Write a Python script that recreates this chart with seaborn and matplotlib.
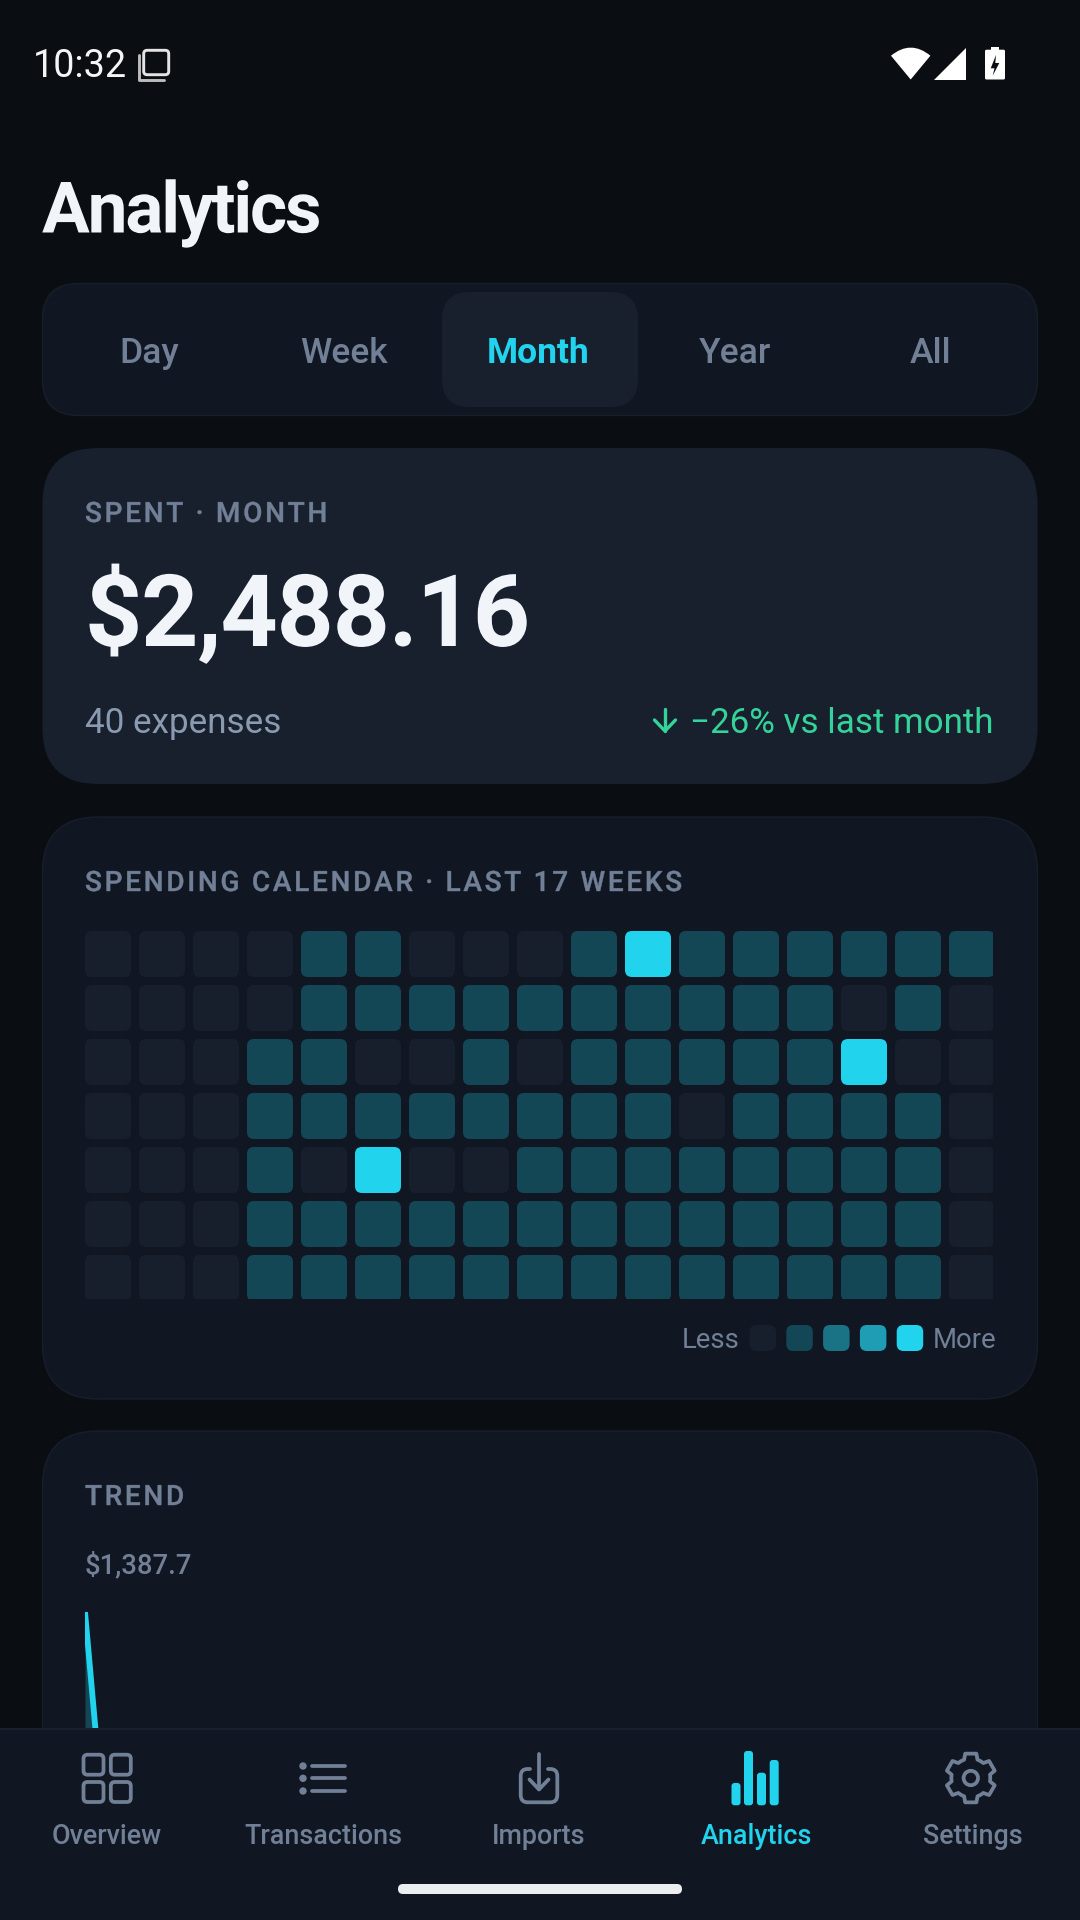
import numpy as np
import pandas as pd
import matplotlib
matplotlib.use("Agg")
import matplotlib.pyplot as plt
import seaborn as sns
from matplotlib.colors import ListedColormap
from matplotlib.font_manager import FontProperties
from matplotlib.patches import FancyBboxPatch, Polygon, Circle, PathPatch
from matplotlib.path import Path
from matplotlib.patheffects import AbstractPathEffect
from matplotlib.textpath import text_to_path
from matplotlib.transforms import Bbox, TransformedBbox

# ---- data ----
tab_labels = ["Day", "Week", "Month", "Year", "All"]
nav_labels = ["Overview", "Transactions", "Imports", "Analytics", "Settings"]
level_colors = ["#181f2c", "#144755", "#1a7285", "#1e9db5", "#22d3ee"]
calendar_levels = [
    [0, 0, 0, 0, 1, 1, 0, 0, 0, 1, 4, 1, 1, 1, 1, 1, 1],
    [0, 0, 0, 0, 1, 1, 1, 1, 1, 1, 1, 1, 1, 1, 0, 1, 0],
    [0, 0, 0, 1, 1, 0, 0, 1, 0, 1, 1, 1, 1, 1, 4, 0, 0],
    [0, 0, 0, 1, 1, 1, 1, 1, 1, 1, 1, 0, 1, 1, 1, 1, 0],
    [0, 0, 0, 1, 0, 4, 0, 0, 1, 1, 1, 1, 1, 1, 1, 1, 0],
    [0, 0, 0, 1, 1, 1, 1, 1, 1, 1, 1, 1, 1, 1, 1, 1, 0],
    [0, 0, 0, 1, 1, 1, 1, 1, 1, 1, 1, 1, 1, 1, 1, 1, 0],
]
trend_steps = [0, 1]
trend_values = [1387.7, 699.0]

# ---- palette ----
BG = "#0a0d12"
CARD = "#101722"
CARD2 = "#18202e"
NAV = "#101722"
BORDER = "#171f2b"
MUTED = "#718096"
SOFT = "#8a9ab0"
WHITE = "#f1f5f9"
CYAN = "#22d3ee"
GREEN = "#34d399"

sns.set_theme(style="dark", rc={"axes.facecolor": BG, "figure.facecolor": BG})
plt.rcParams["font.family"] = ["Roboto", "DejaVu Sans"]

W, H = 1080, 1920
fig = plt.figure(figsize=(W / 100, H / 100), dpi=100, facecolor=BG)


def pixel_axes(zorder, y0=0, y1=H):
    ax = fig.add_axes([0, 1 - y1 / H, 1, (y1 - y0) / H], zorder=zorder)
    ax.set_xlim(0, W)
    ax.set_ylim(y1, y0)
    ax.axis("off")
    return ax


def box_axes(x0, y0, x1, y1, zorder):
    return fig.add_axes([x0 / W, 1 - y1 / H, (x1 - x0) / W, (y1 - y0) / H], zorder=zorder)


class Tracking(AbstractPathEffect):
    """Draws a whole string with extra letter spacing and an optional hairline stroke."""

    def __init__(self, s, prop, em, stroke=0.0):
        super().__init__()
        self.counts = [len(text_to_path.get_text_path(prop, c)[0]) for c in s]
        self.em = em
        self.stroke = stroke

    def draw_path(self, renderer, gc, tpath, affine, rgbFace=None):
        v = np.array(tpath.vertices, dtype=float)
        if sum(self.counts) == len(v):
            i = 0
            for k, n in enumerate(self.counts):
                v[i:i + n, 0] += k * self.em * 100
                i += n
        if self.stroke:
            gc.set_linewidth(self.stroke)
        renderer.draw_path(gc, Path(v, tpath.codes), affine, rgbFace)


def label(ax, x, y, s, px, color, weight="normal", ha="left", em=None, stroke=0.0):
    t = ax.text(x, y, s, fontsize=px * 0.72, color=color, fontweight=weight,
                ha=ha, va="baseline", family=["Roboto", "DejaVu Sans"])
    if em:
        prop = FontProperties(family="Roboto", weight=weight)
        t.set_path_effects([Tracking(s, prop, em, stroke)])
    return t


def rbox(ax, x0, y0, x1, y1, r, fc, ec="none", lw=0, z=1, **kw):
    p = FancyBboxPatch((x0, y0), x1 - x0, y1 - y0, boxstyle=f"round,pad=0,rounding_size={r}",
                       fc=fc, ec=ec, lw=lw, zorder=z, **kw)
    ax.add_patch(p)
    return p


bg = pixel_axes(0)

# status bar
label(bg, 32.5, 77, "10:32", 37.8, "#f5f5f5")
rbox(bg, 143.7, 50.3, 168.7, 74.7, 3.5, "none", "#e4e4e4", 2.1)
bg.plot([139, 139, 163.5], [54.5, 79.5, 79.5], color="#bdbdbd", lw=2.1, solid_capstyle="round", solid_joinstyle="round")
wifi = Path([(910.7, 79.5), (891, 55.7), (910.7, 39.5), (930.4, 55.7), (910.7, 79.5)],
            [Path.MOVETO, Path.LINETO, Path.CURVE3, Path.CURVE3, Path.CLOSEPOLY])
bg.add_patch(PathPatch(wifi, fc="white", ec="none"))
bg.add_patch(Polygon([(966, 47.5), (966, 79.5), (934, 79.5)], fc="white", ec="none"))
rbox(bg, 985, 49.7, 1005, 79.5, 1.5, "white")
bg.add_patch(Polygon([(990.7, 50), (990.7, 46.7), (999.3, 46.7), (999.3, 50)], fc="white", ec="none"))
bg.add_patch(Polygon([(996, 55), (990.7, 68.3), (994.5, 68.3), (992.7, 75.7), (999.3, 63), (995.3, 63)], fc=BG, ec="none", zorder=3))

# title
label(bg, 42, 232.5, "Analytics", 71, WHITE, "bold", em=-0.03)

# range tabs
rbox(bg, 42.5, 283.5, 1037.5, 415.5, 36, CARD, BORDER, 1)
rbox(bg, 442, 292, 638, 407, 28, CARD2, z=2)
tab_x = [148.7, 344, 538.6, 735, 930]
for x, s in zip(tab_x, tab_labels):
    active = s == "Month"
    label(bg, x, 363, s, 35.5, CYAN if active else MUTED, "bold" if active else "medium", ha="center").set_zorder(3)

# spent card
rbox(bg, 42.5, 448, 1037.5, 784, 56, CARD2)
label(bg, 85, 522, "SPENT · MONTH", 28, MUTED, "medium", em=0.096, stroke=0.3).set_zorder(3)
label(bg, 85, 646, "$2,488.16", 100, WHITE, "bold", em=-0.0125).set_zorder(3)
label(bg, 85, 733, "40 expenses", 35, SOFT).set_zorder(3)
label(bg, 993, 733, "−26% vs last month", 35, GREEN, ha="right").set_zorder(3)
bg.plot([665, 665], [708.5, 731], color=GREEN, lw=2.4, solid_capstyle="round", zorder=3)
bg.plot([654.5, 665, 675.5], [720, 731, 720], color=GREEN, lw=2.4, solid_capstyle="round", solid_joinstyle="round", zorder=3)

# calendar card
rbox(bg, 42.5, 817, 1037.5, 1399, 56, CARD, BORDER, 1)
label(bg, 85, 891, "SPENDING CALENDAR · LAST 17 WEEKS", 28, MUTED, "medium", em=0.096, stroke=0.3).set_zorder(3)

# calendar heatmap (cells rounded and cut off by the clip path / box of the mesh)
levels_df = pd.DataFrame(calendar_levels)
n_rows, n_cols = levels_df.shape
PITCH, CELL = 54, 46
hx0, hy0 = 85 - (PITCH - CELL) / 2, 931 - (PITCH - CELL) / 2
hm = box_axes(hx0, hy0, hx0 + n_cols * PITCH, hy0 + n_rows * PITCH, 1)
sns.heatmap(levels_df, ax=hm, cmap=ListedColormap(level_colors), vmin=-0.5, vmax=4.5,
            cbar=False, xticklabels=False, yticklabels=False)
hm.patch.set_alpha(0)
inset, size, rad = (PITCH - CELL) / 2 / PITCH, CELL / PITCH, 7 / PITCH
style = matplotlib.patches.BoxStyle.Round(pad=0, rounding_size=rad)
cells = [style(c + inset, r + inset, size, size, 1.0) for r in range(n_rows) for c in range(n_cols)]
mesh = hm.collections[0]
mesh.set_clip_path(Path.make_compound_path(*cells), hm.transData)
mesh.set_clip_box(TransformedBbox(Bbox([[85, 1299], [993, 931]]), bg.transData))

# legend
label(bg, 682, 1348.5, "Less", 27.5, MUTED)
for i, c in enumerate(level_colors):
    x = 749.5 + i * 36.8
    rbox(bg, x, 1325, x + 26.5, 1351, 7, c, z=3)
label(bg, 933, 1348.5, "More", 27.5, MUTED)

# trend card
rbox(bg, 42.5, 1431, 1037.5, 1990, 56, CARD, BORDER, 1)
label(bg, 85, 1505, "TREND", 28, MUTED, "medium", em=0.096, stroke=0.3).set_zorder(3)
label(bg, 85, 1573, "$1,387.7", 27.5, MUTED, "medium").set_zorder(3)

tr = box_axes(85, 1612, 993, 1890, 1)
tr.patch.set_alpha(0)
sns.lineplot(x=trend_steps, y=trend_values, ax=tr, color=CYAN, lw=4.2, estimator=None,
             solid_capstyle="butt")
tr.fill_between(trend_steps, trend_values, 0, color=CYAN, alpha=0.25, lw=0)
tr.set_xlim(0, 908 / 12.3)
tr.set_ylim(0, trend_values[0])
tr.axis("off")

# bottom navigation
nav = pixel_axes(5, 1728, H)
nav.add_patch(plt.Rectangle((0, 1728), W, 192, fc=NAV, ec="none"))
nav.plot([0, W], [1728.5, 1728.5], color="#1c2431", lw=1.2)
nav_x = [107, 323, 539, 756, 973]
for x, s in zip(nav_x, nav_labels):
    label(nav, x, 1844, s, 26.9, CYAN if s == "Analytics" else MUTED, "medium", ha="center")

SW = 2.7  # stroke, points
for x0, y0 in [(83.5, 1754.7), (110.8, 1754.7), (83.5, 1782), (110.8, 1782)]:
    rbox(nav, x0, y0, x0 + 20, y0 + 20, 4, "none", MUTED, SW)
for y in [1766, 1778.3, 1791]:
    nav.add_patch(Circle((303, y), 3.7, fc=MUTED, ec="none"))
    nav.plot([311.5, 345], [y, y], color=MUTED, lw=SW, solid_capstyle="round")
nav.plot([539, 539], [1754, 1789], color=MUTED, lw=SW, solid_capstyle="round")
nav.plot([529.5, 539, 548.5], [1779.5, 1789.5, 1779.5], color=MUTED, lw=SW, solid_capstyle="round", solid_joinstyle="round")
bx = Path([(530, 1769), (527.5, 1769), (520.7, 1769), (520.7, 1776), (520.7, 1795), (520.7, 1802.3), (527.7, 1802.3),
           (550.3, 1802.3), (557.3, 1802.3), (557.3, 1795), (557.3, 1776), (557.3, 1769), (550.3, 1769), (548, 1769)],
          [Path.MOVETO, Path.LINETO, Path.CURVE3, Path.CURVE3, Path.LINETO, Path.CURVE3, Path.CURVE3,
           Path.LINETO, Path.CURVE3, Path.CURVE3, Path.LINETO, Path.CURVE3, Path.CURVE3, Path.LINETO])
nav.add_patch(PathPatch(bx, fc="none", ec=MUTED, lw=SW, capstyle="round"))

for x0, top in [(731.5, 1783), (744, 1751), (757, 1772.7), (769.7, 1760)]:
    rbox(nav, x0, top, x0 + 9, 1805.3, 3, CYAN)

gx, gy = 970.8, 1778
pts = []
for a in np.arange(90, 450, 60):
    for da, r in [(-30, 19.5), (-20, 19.5), (-13, 25), (13, 25), (20, 19.5)]:
        t = np.radians(a + da)
        pts.append((gx + r * np.cos(t), gy - r * np.sin(t)))
nav.add_patch(Polygon(pts, closed=True, fc="none", ec=MUTED, lw=SW, joinstyle="round"))
nav.add_patch(Circle((gx, gy), 7.2, fc="none", ec=MUTED, lw=SW))

rbox(nav, 398, 1884, 682, 1894, 5, "#eceef0")

fig.savefig("out.png", dpi=100, facecolor=BG)
